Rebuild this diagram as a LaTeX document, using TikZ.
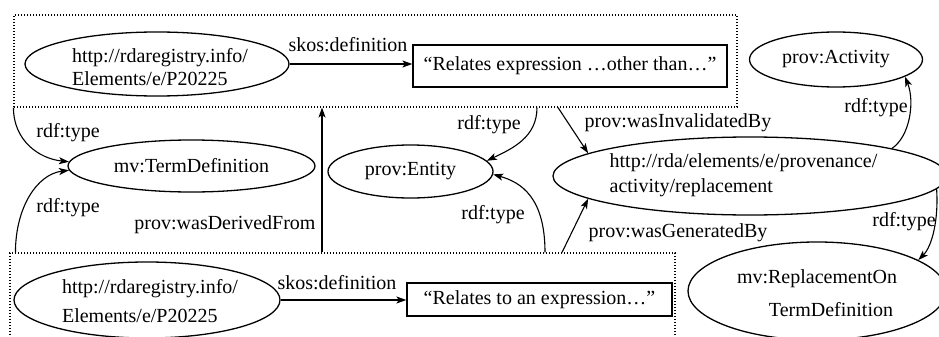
\documentclass[tikz,border=0pt]{standalone}
\usepackage{fontspec}
\setmainfont{Liberation Serif}
\usetikzlibrary{arrows.meta,shapes.geometric,calc}
\tikzset{
  ell/.style={draw, ellipse, line width=1.3pt, inner sep=0pt},
  rectbox/.style={draw, rectangle, line width=1.3pt, inner sep=0pt},
  dotbox/.style={draw, rectangle, line width=1.1pt, dash pattern=on 1.1pt off 1.9pt, inner sep=0pt},
  arr/.style={line width=1.1pt, -{Stealth[length=10pt,width=7pt,inset=2.5pt]}},
  txt/.style={inner sep=0pt, font=\fontsize{20pt}{23pt}\selectfont},
}
\begin{document}
\begin{tikzpicture}[x=1pt,y=-1pt]
\useasboundingbox (0,0) rectangle (939,337);
\clip (0,0) rectangle (939,337);
% containers
\node[dotbox, minimum width=723pt, minimum height=92pt] (topbox) at (375.5,61) {};
\node[dotbox, minimum width=665pt, minimum height=92pt] (botbox) at (342.5,299) {};
% top group
\node[ell, minimum width=264pt, minimum height=64pt] (u1) at (157,64) {};
\node[txt, align=left] (u1t) at (160,67) {http://rdaregistry.info/\\Elements/e/P20225};
\node[rectbox, txt, minimum width=314pt, minimum height=42pt] (d1) at (570,66) {“Relates expression …other than…”};
% bottom group
\node[ell, minimum width=266pt, minimum height=76pt] (u2) at (147,300) {};
\node[txt, align=left] (u2t) at (150,301.5) {http://rdaregistry.info/\\[6pt]Elements/e/P20225};
\node[rectbox, txt, minimum width=265pt, minimum height=33pt] (d2) at (539.5,299.5) {“Relates to an expression…”};
% classes
\node[ell, txt, minimum width=247pt, minimum height=52pt] (tdef) at (191.5,166) {mv:TermDefinition};
\node[ell, txt, minimum width=165pt, minimum height=53pt] (ent) at (410.5,171.5) {prov:Entity};
\node[ell, txt, minimum width=173pt, minimum height=55pt] (act) at (836,59.5) {prov:Activity};
\node[ell, minimum width=394pt, minimum height=78pt] (big) at (750,176) {};
\node[txt, align=left] (bigt) at (743.5,175.5) {http://rda/elements/e/provenance/\\[2pt]activity/replacement};
\node[ell, minimum width=258pt, minimum height=98pt] (rep) at (817,291) {};
\node[txt, align=center] (rept) at (817,293.5) {mv:ReplacementOn\\[10pt]\hspace*{28pt}TermDefinition};
% labels
\node[txt] (l1) at (348,45) {skos:definition};
\node[txt] (l2) at (337,283) {skos:definition};
\node[txt] (l3) at (68,133) {rdf:type};
\node[txt] (l4) at (68,208) {rdf:type};
\node[txt] (l5) at (225,225) {prov:wasDerivedFrom};
\node[txt] (l6) at (489,125) {rdf:type};
\node[txt] (l7) at (493,215) {rdf:type};
\node[txt] (l8) at (678,123) {prov:wasInvalidatedBy};
\node[txt] (l9) at (678,233) {prov:wasGeneratedBy};
\node[txt] (l10) at (876,108) {rdf:type};
\node[txt] (l11) at (904,222) {rdf:type};
% helper coordinates
\coordinate (cx) at (322,180);
\coordinate (dx) at (537,120);
\coordinate (ex) at (545,220);
\coordinate (fx) at (558,120);
\coordinate (gx) at (562,220);
% connectors
\draw[arr] (u1.east) -- (u1.east -| d1.west);
\draw[arr] (u2.east) -- (u2.east -| d2.west);
\draw[arr] (topbox.south west) .. controls +(0,33) and +(-30,-3) .. (tdef.178);
\draw[arr] ([xshift=6pt]botbox.north west) .. controls +(0,-45) and +(-32,4) .. (tdef.182);
\draw[arr] (botbox.north -| cx) -- (topbox.south -| cx);
\draw[arr] (topbox.south -| dx) .. controls +(0,30) and +(25,-12) .. (ent.8);
\draw[arr] (botbox.north -| ex) .. controls +(0,-55) and +(28,8) .. (ent.-2);
\draw[arr] (topbox.south -| fx) -- (big.172);
\draw[arr] (botbox.north -| gx) -- (big.188);
\draw[arr] (big.11) .. controls +(18,-12) and +(10,25) .. (act.-14);
\draw[arr] (big.-4) .. controls +(2,30) and +(14,-14) .. (rep.17);
\end{tikzpicture}
\end{document}
